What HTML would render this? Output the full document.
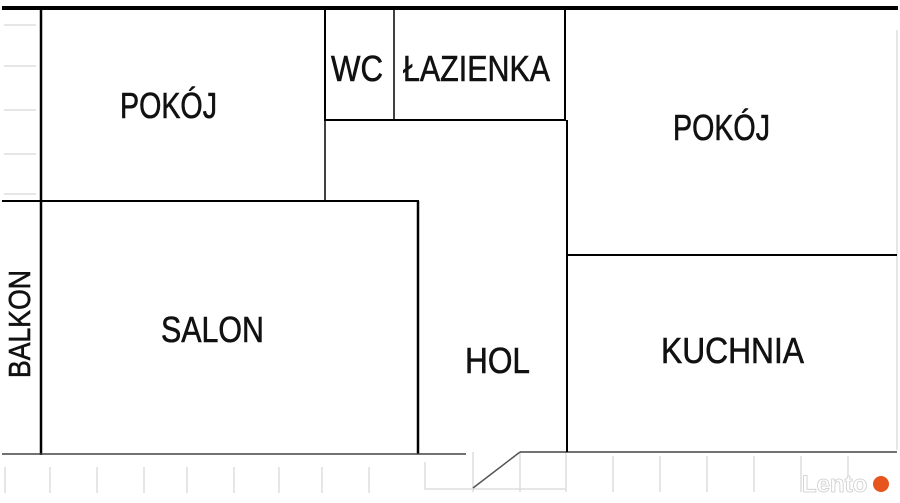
<!DOCTYPE html>
<html><head><meta charset="utf-8"><style>html,body{margin:0;padding:0;background:#fff}svg{display:block}</style></head>
<body>
<svg width="900" height="503" viewBox="0 0 900 503" xmlns="http://www.w3.org/2000/svg">
<rect width="900" height="503" fill="#fff"/>
<g stroke="#ddd" stroke-width="1.5">
<line x1="4" y1="25" x2="36" y2="25"/><line x1="4" y1="66" x2="36" y2="66"/><line x1="4" y1="110" x2="36" y2="110"/><line x1="4" y1="154" x2="36" y2="154"/><line x1="4" y1="194" x2="36" y2="194"/>
<line x1="5" y1="467" x2="5" y2="493"/><line x1="50" y1="467" x2="50" y2="493"/><line x1="97" y1="467" x2="97" y2="493"/><line x1="144" y1="467" x2="144" y2="493"/><line x1="187" y1="467" x2="187" y2="493"/><line x1="234" y1="467" x2="234" y2="493"/><line x1="279" y1="467" x2="279" y2="493"/><line x1="322" y1="467" x2="322" y2="493"/><line x1="369" y1="467" x2="369" y2="493"/>
<polyline points="425,462 425,489 473,489" fill="none"/><line x1="473" y1="452" x2="473" y2="492"/><line x1="520" y1="452" x2="520" y2="492"/><line x1="473" y1="489" x2="566" y2="489"/><line x1="566" y1="452" x2="566" y2="492"/>
<line x1="613" y1="456" x2="613" y2="492"/><line x1="660" y1="456" x2="660" y2="492"/><line x1="707" y1="456" x2="707" y2="492"/><line x1="754" y1="456" x2="754" y2="492"/><line x1="801" y1="456" x2="801" y2="492"/><line x1="848" y1="456" x2="848" y2="492"/>
<line x1="897" y1="30" x2="897" y2="450"/>
</g>
<g stroke="#000" fill="none">
<line x1="2" y1="8" x2="898" y2="8" stroke-width="4"/>
<line x1="41" y1="8" x2="41" y2="455" stroke-width="2.5"/>
<line x1="2" y1="201" x2="419" y2="201" stroke-width="2"/>
<line x1="418" y1="201" x2="418" y2="454" stroke-width="2.5"/>
<line x1="2" y1="454" x2="466" y2="454" stroke-width="1.5" stroke="#444"/>
<line x1="473" y1="488" x2="520" y2="452" stroke-width="1.5" stroke="#555"/>
<line x1="520" y1="452" x2="897" y2="452" stroke-width="1.5" stroke="#444"/>
<line x1="325" y1="9" x2="325" y2="201" stroke-width="1.5"/>
<rect x="325" y="9" width="240" height="111" stroke-width="2"/>
<line x1="394" y1="9" x2="394" y2="120" stroke-width="1.5"/>
<line x1="567" y1="120" x2="567" y2="452" stroke-width="2"/>
<line x1="567" y1="255" x2="897" y2="255" stroke-width="2"/>
</g>
<g font-family="Liberation Sans, sans-serif" fill="#111" stroke="#111" stroke-width="0.6" font-size="36">
<text x="120" y="118" textLength="97" lengthAdjust="spacingAndGlyphs">POKÓJ</text>
<text x="331" y="81" textLength="52" lengthAdjust="spacingAndGlyphs">WC</text>
<text x="403" y="81" textLength="147" lengthAdjust="spacingAndGlyphs">ŁAZIENKA</text>
<text x="673" y="140" textLength="97" lengthAdjust="spacingAndGlyphs">POKÓJ</text>
<text x="161" y="342" textLength="103" lengthAdjust="spacingAndGlyphs">SALON</text>
<text x="465" y="373" textLength="65" lengthAdjust="spacingAndGlyphs">HOL</text>
<text x="661" y="363" textLength="143" lengthAdjust="spacingAndGlyphs">KUCHNIA</text>
<text transform="translate(30,378) rotate(-90)" x="0" y="0" font-size="31" textLength="108" lengthAdjust="spacingAndGlyphs">BALKON</text>
</g>
<text x="802" y="492" font-family="Liberation Sans, sans-serif" font-weight="bold" font-size="24" fill="#fff" stroke="#ccc" stroke-width="0.8">Lento</text>
<circle cx="881" cy="484" r="8" fill="#e8541e"/>
</svg>
</body></html>
